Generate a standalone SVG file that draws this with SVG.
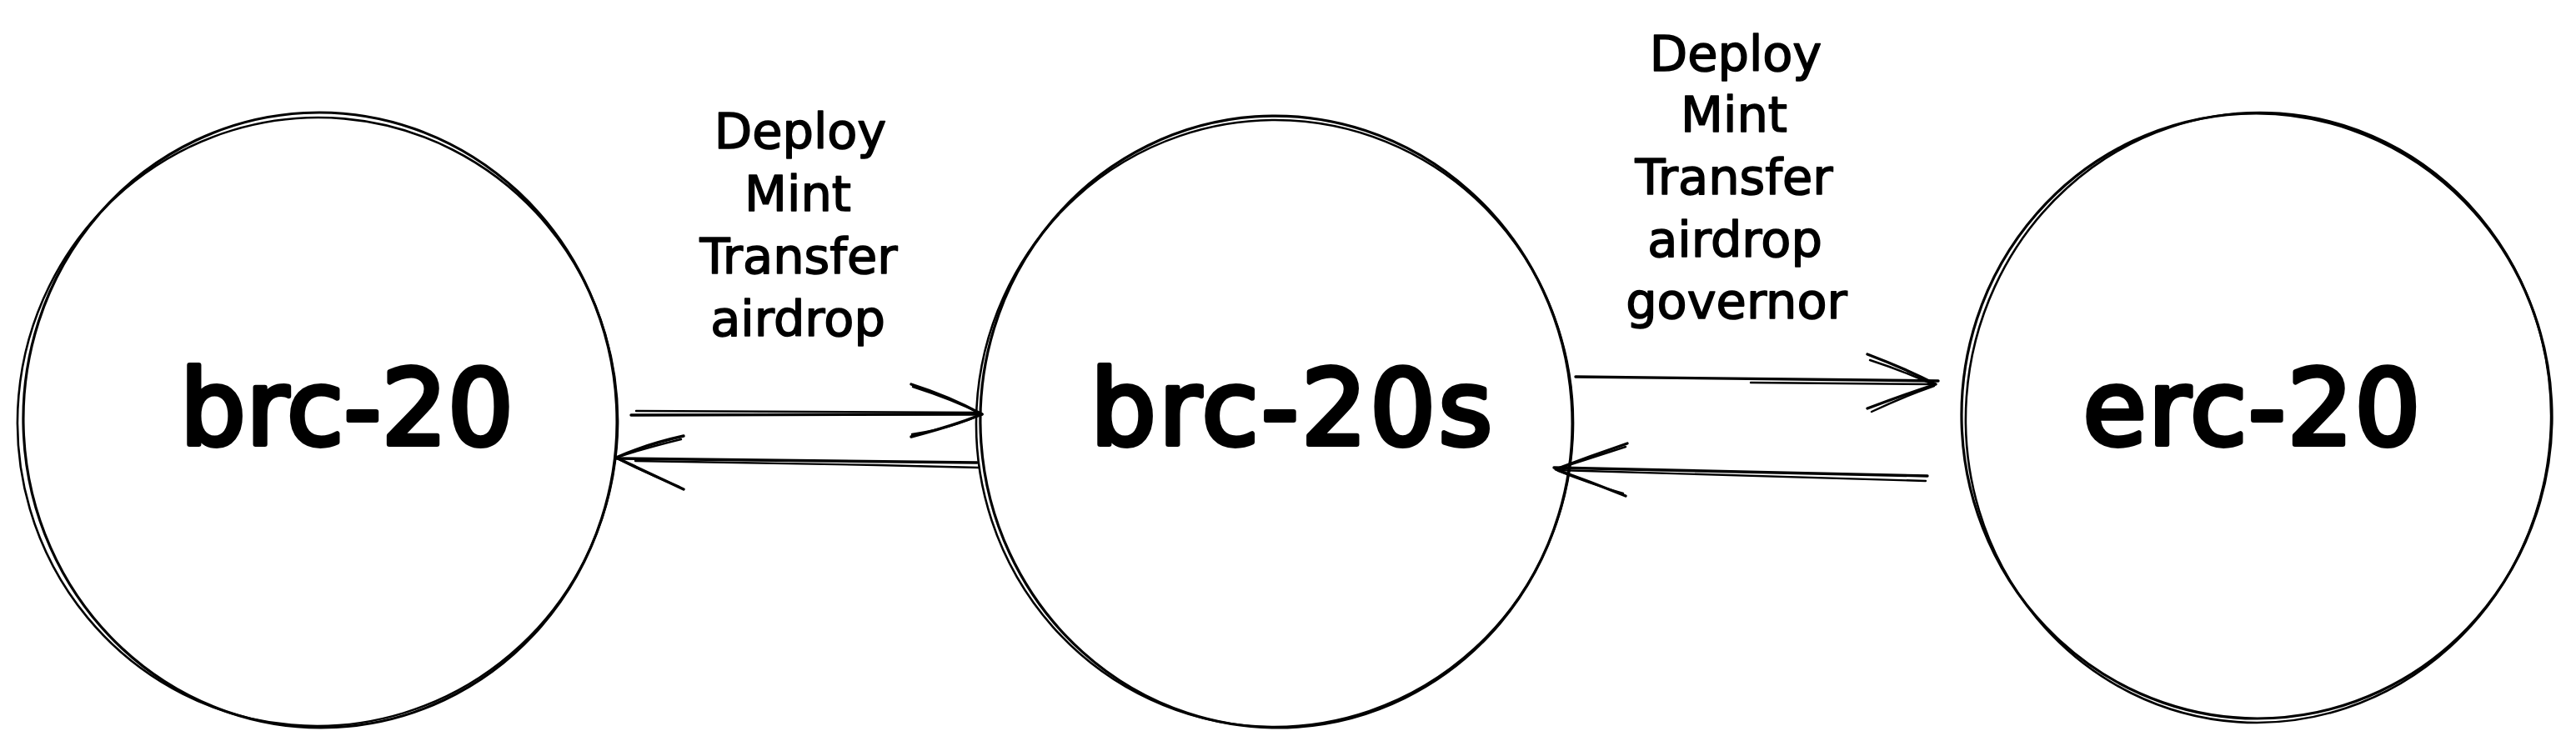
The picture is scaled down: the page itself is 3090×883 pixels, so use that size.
<svg xmlns="http://www.w3.org/2000/svg" width="3090" height="883" viewBox="0 0 3090 883">
<style>
.ring{fill:none;stroke:#000;stroke-width:3.2;stroke-linecap:round}
.ring2{fill:none;stroke:#000;stroke-width:2.6;stroke-linecap:round}
.line{fill:none;stroke:#000;stroke-width:3.4;stroke-linecap:round;stroke-linejoin:round}
.thin{fill:none;stroke:#000;stroke-width:2.4;stroke-linecap:round}
.big{font-family:"DejaVu Sans","Liberation Sans",sans-serif;font-size:124px;fill:#000;stroke:#000;stroke-width:6;stroke-linejoin:round;text-anchor:middle}
.lbl{font-family:"DejaVu Sans","Liberation Sans",sans-serif;font-size:59px;fill:#000;stroke:#000;stroke-width:1.6;stroke-linejoin:round;text-anchor:middle}
</style>
<rect width="3090" height="883" fill="#fff"/>
<g id="node-brc20">
<ellipse class="ring" cx="384" cy="504" rx="356" ry="369" transform="rotate(-3 384 504)"/>
<ellipse class="ring2" cx="381" cy="506" rx="360" ry="365" transform="rotate(5 381 506)"/>
<text class="big" x="416" y="533" textLength="400" lengthAdjust="spacing">brc-20</text>
</g>
<g id="node-brc20s">
<ellipse class="ring" cx="1531" cy="506" rx="355" ry="367" transform="rotate(-4 1531 506)"/>
<ellipse class="ring2" cx="1529" cy="508" rx="358" ry="364" transform="rotate(3 1529 508)"/>
<text class="big" x="1549" y="533" textLength="482" lengthAdjust="spacing">brc-20s</text>
</g>
<g id="node-erc20">
<ellipse class="ring" cx="2707" cy="499" rx="354" ry="363" transform="rotate(-3 2707 499)"/>
<ellipse class="ring2" cx="2709" cy="501" rx="351" ry="366" transform="rotate(4 2709 501)"/>
<text class="big" x="2701" y="533" textLength="405" lengthAdjust="spacing">erc-20</text>
</g>
<g id="label-left">
<text class="lbl" x="960" y="178">Deploy</text>
<text class="lbl" x="957" y="253">Mint</text>
<text class="lbl" x="958" y="328">Transfer</text>
<text class="lbl" x="957" y="403">airdrop</text>
</g>
<g id="label-right">
<text class="lbl" x="2082" y="85">Deploy</text>
<text class="lbl" x="2080" y="158">Mint</text>
<text class="lbl" x="2080" y="233">Transfer</text>
<text class="lbl" x="2081" y="308">airdrop</text>
<text class="lbl" x="2083" y="382">governor</text>
</g>
<g id="connectors">
<path class="line" d="M757,498 L1178,497"/>
<path class="thin" d="M763,493 L1176,495"/>
<path class="line" d="M1093,461 Q1140,476 1178,497 Q1140,512 1093,524"/>
<path class="thin" d="M1095,464 Q1142,479 1176,496 M1176,498 Q1140,514 1094,521"/>
<path class="line" d="M1172,555 L739,550"/>
<path class="thin" d="M1174,561 L1052,558 L762,553"/>
<path class="line" d="M820,523 Q775,533 739,549 Q775,566 820,587"/>
<path class="thin" d="M817,527 Q776,537 742,548 M742,551 Q778,569 815,584"/>
<path class="line" d="M1890,452 L2325,457"/>
<path class="thin" d="M2100,459 L2322,461"/>
<path class="line" d="M2240,425 Q2285,442 2322,461 Q2285,473 2240,490"/>
<path class="thin" d="M2243,432 Q2286,446 2320,462 M2320,463 Q2283,476 2245,494"/>
<path class="line" d="M2312,571 L1864,561"/>
<path class="thin" d="M2310,577 L1868,564"/>
<path class="line" d="M1952,532 Q1908,547 1866,563 Q1908,578 1950,595"/>
<path class="thin" d="M1950,536 Q1907,550 1869,562 M1869,565 Q1906,580 1947,592"/>
</g>
</svg>
